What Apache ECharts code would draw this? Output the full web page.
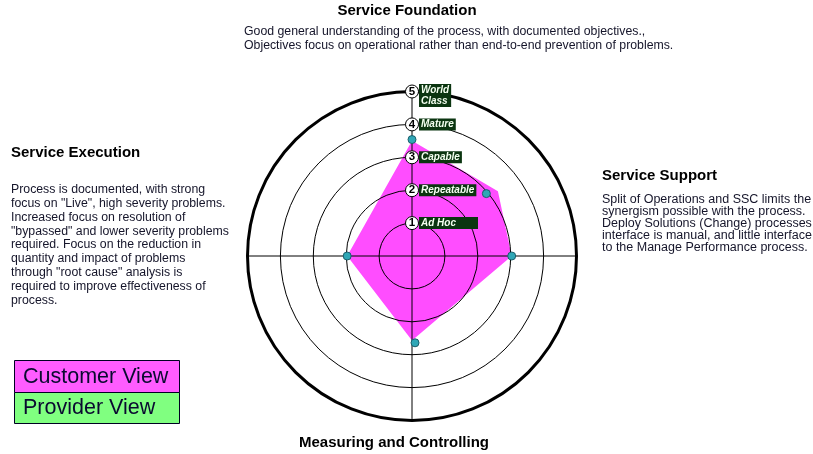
<!DOCTYPE html>
<html><head><meta charset="utf-8">
<script src="https://cdn.jsdelivr.net/npm/echarts@6/dist/echarts.min.js"></script>
<style>html,body{margin:0;padding:0;background:#fff}#c{width:813px;height:454px}</style>
</head><body><div id="c"></div>
<script>
// ---- data ----
const levelValues = [1, 2, 3, 4, 5];
const levelNames = ['Ad Hoc', 'Repeatable', 'Capable', 'Mature', 'World\nClass'];
const customerAngles = [0, 53, 90, 180, 270, 360];
const customerValues = [3.5, 3.27, 3.03, 2.57, 1.97, 3.5];
const providerAngles = [0, 50, 90, 178, 270];
const providerValues = [3.54, 2.95, 3.03, 2.64, 1.97];
const legendNames = ['Customer View', 'Provider View'];

const FONT = "'Liberation Sans', Arial, sans-serif";
const chart = echarts.init(document.getElementById('c'), null, {renderer: 'canvas'});

const customerData = customerValues.map((v, i) => [v, customerAngles[i]]);
const providerData = providerValues.map((v, i) => [v, providerAngles[i]]);
const levelData = levelValues.map(v => [v, 0]);

const nameLabelExtra = {
  0: {padding: [1, 22, 0, 2]},
  4: {offset: [0, 4], lineHeight: 11}
};

const option = {
  animation: false,
  backgroundColor: '#ffffff',
  polar: {center: [412, 256], radius: 164.5},
  angleAxis: {
    type: 'value', min: 0, max: 360, interval: 90, startAngle: 90, clockwise: true, z: 3,
    axisLine: {show: true, lineStyle: {color: '#000', width: 3}},
    axisTick: {show: false}, axisLabel: {show: false},
    splitLine: {show: true, lineStyle: {color: '#000', width: 1}}
  },
  radiusAxis: {
    type: 'value', min: 0, max: 5, interval: 1, z: 3,
    axisLine: {show: false}, axisTick: {show: false}, axisLabel: {show: false},
    splitLine: {show: true, lineStyle: {color: '#000', width: 1}}
  },
  series: [
    {
      name: legendNames[0], type: 'line', coordinateSystem: 'polar', z: 1,
      data: customerData, showSymbol: false, symbol: 'none',
      lineStyle: {width: 0, color: '#ff4dff'},
      areaStyle: {color: '#ff4dff', opacity: 1}
    },
    {
      name: legendNames[1], type: 'scatter', coordinateSystem: 'polar', z: 5,
      data: providerData, symbol: 'circle', symbolSize: 8,
      itemStyle: {color: '#2fa7b6', borderColor: '#1b5e6a', borderWidth: 1, opacity: 1}
    },
    {
      type: 'scatter', coordinateSystem: 'polar', z: 6,
      data: levelData, symbol: 'circle', symbolSize: 13,
      itemStyle: {color: '#fff', borderColor: '#000', borderWidth: 1, opacity: 1},
      label: {show: true, position: 'inside', formatter: p => String(levelValues[p.dataIndex]),
        color: '#000', fontSize: 11.5, fontWeight: 'bold', fontFamily: FONT}
    },
    {
      type: 'scatter', coordinateSystem: 'polar', z: 7,
      data: levelData.map((d, i) => {
        const item = {value: d};
        if (nameLabelExtra[i]) item.label = nameLabelExtra[i];
        return item;
      }),
      symbol: 'circle', symbolSize: 0, silent: true,
      itemStyle: {opacity: 1},
      label: {show: true, position: 'right', distance: 7,
        formatter: p => levelNames[p.dataIndex],
        color: '#f4fff0', fontSize: 10, fontWeight: 'bold', fontStyle: 'italic', fontFamily: FONT,
        backgroundColor: '#0b3510', padding: [1, 2, 0, 2], lineHeight: 11,
        textShadowColor: '#000', textShadowBlur: 0, textShadowOffsetX: 1, textShadowOffsetY: 1}
    }
  ],
  graphic: [
    {type: 'text', style: {text: 'Service Foundation', x: 407, y: 11, textAlign: 'center', textVerticalAlign: 'middle', font: 'bold 15px ' + FONT, fill: '#000'}},
    {type: 'text', style: {text: 'Good general understanding of the process, with documented objectives.,\nObjectives focus on operational rather than end-to-end prevention of problems.', x: 244, y: 24.5, textVerticalAlign: 'top', lineHeight: 14, font: '12.3px ' + FONT, fill: '#15152a'}},
    {type: 'text', style: {text: 'Service Execution', x: 11, y: 153, textVerticalAlign: 'middle', font: 'bold 15px ' + FONT, fill: '#000'}},
    {type: 'text', style: {text: 'Process is documented, with strong\nfocus on "Live", high severity problems.\nIncreased focus on resolution of\n"bypassed" and lower severity problems\nrequired. Focus on the reduction in\nquantity and impact of problems\nthrough "root cause" analysis is\nrequired to improve effectiveness of\nprocess.', x: 11, y: 183, textVerticalAlign: 'top', lineHeight: 13.8, font: '12.3px ' + FONT, fill: '#15152a'}},
    {type: 'text', style: {text: 'Service Support', x: 602, y: 176, textVerticalAlign: 'middle', font: 'bold 15px ' + FONT, fill: '#000'}},
    {type: 'text', style: {text: 'Split of Operations and SSC limits the\nsynergism possible with the process.\nDeploy Solutions (Change) processes\ninterface is manual, and little interface\nto the Manage Performance process.', x: 602, y: 193.3, textVerticalAlign: 'top', lineHeight: 12, font: '12.5px ' + FONT, fill: '#15152a'}},
    {type: 'text', style: {text: 'Measuring and Controlling', x: 394, y: 443, textAlign: 'center', textVerticalAlign: 'middle', font: 'bold 15px ' + FONT, fill: '#000'}},
    {type: 'rect', shape: {x: 14.5, y: 360.5, width: 165, height: 32}, style: {fill: '#ff5cff', stroke: '#000022', lineWidth: 1}},
    {type: 'rect', shape: {x: 14.5, y: 392.5, width: 165, height: 31}, style: {fill: '#80ff80', stroke: '#000022', lineWidth: 1}},
    {type: 'text', style: {text: legendNames[0], x: 23, y: 377, textVerticalAlign: 'middle', font: '21.5px ' + FONT, fill: '#0a0a30'}},
    {type: 'text', style: {text: legendNames[1], x: 23, y: 408.5, textVerticalAlign: 'middle', font: '21.5px ' + FONT, fill: '#0a0a30'}}
  ]
};
chart.setOption(option);
</script>
</body></html>
